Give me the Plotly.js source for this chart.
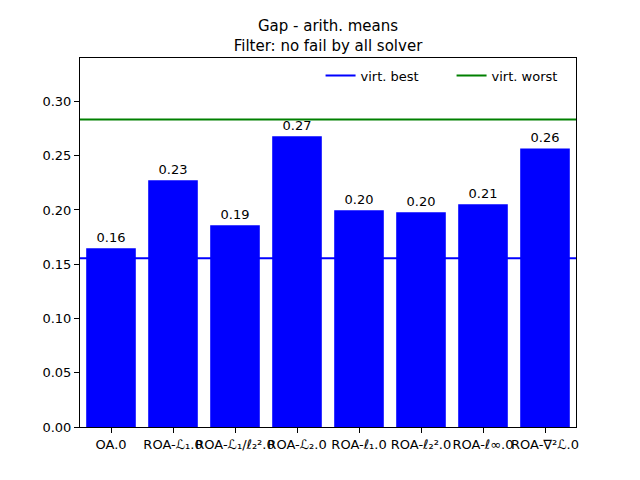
<!DOCTYPE html>
<html>
<head>
<meta charset="utf-8">
<script src="https://cdn.plot.ly/plotly-3.0.1.min.js"></script>
<style>html,body{margin:0;padding:0;background:#fff;}</style>
</head>
<body>
<div id="chart" style="width:640px;height:480px;"></div>
<script>
const categories = ["OA.0", "ROA-ℒ₁.0", "ROA-ℒ₁/ℓ₂².0", "ROA-ℒ₂.0", "ROA-ℓ₁.0", "ROA-ℓ₂².0", "ROA-ℓ∞.0", "ROA-∇²ℒ.0"];
const gapMeans = [0.1647, 0.2273, 0.1859, 0.2678, 0.1997, 0.1978, 0.2052, 0.2567];
const virtBest = 0.1555;
const virtWorst = 0.2834;
const lineX = [-0.5, 7.5];

const font = {family: "DejaVu Sans", size: 13, color: "#000"};

const traces = [
  {
    type: "bar",
    x: categories.map((c, i) => i),
    y: gapMeans,
    marker: {color: "#0000ff"},
    width: 0.8,
    text: gapMeans.map(v => v.toFixed(2)),
    textposition: "outside",
    textfont: font,
    cliponaxis: false,
    showlegend: false,
    hoverinfo: "y"
  },
  {
    type: "scatter", mode: "lines",
    x: lineX, y: [virtBest, virtBest],
    line: {color: "#0000ff", width: 2},
    name: "virt. best"
  },
  {
    type: "scatter", mode: "lines",
    x: lineX, y: [virtWorst, virtWorst],
    line: {color: "#008000", width: 2},
    name: "virt. worst"
  }
];

const layout = {
  width: 640, height: 480,
  margin: {l: 80, r: 64, t: 58, b: 53},
  paper_bgcolor: "#fff", plot_bgcolor: "#fff",
  font: font,
  title: {
    text: "Gap - arith. means<br>Filter: no fail by all solver",
    font: {family: "DejaVu Sans", size: 15, color: "#000", lineposition: "none"},
    x: 0.5125, xanchor: "center", y: 0.935, yanchor: "top"
  },
  xaxis: {
    range: [-0.5, 7.5],
    tickmode: "array",
    tickvals: categories.map((c, i) => i),
    ticktext: categories,
    tickangle: 0,
    ticks: "outside", ticklen: 5, tickcolor: "#000",
    showline: true, linecolor: "#000", linewidth: 1, mirror: true,
    showgrid: false, zeroline: false,
    tickfont: font
  },
  yaxis: {
    range: [0, 0.34],
    tickvals: [0, 0.05, 0.10, 0.15, 0.20, 0.25, 0.30],
    tickformat: ".2f",
    ticks: "outside", ticklen: 5, tickcolor: "#000",
    showline: true, linecolor: "#000", linewidth: 1, mirror: true,
    showgrid: false, zeroline: false,
    tickfont: font
  },
  legend: {
    orientation: "h",
    x: 0.485, xanchor: "left",
    y: 0.993, yanchor: "top",
    bgcolor: "rgba(255,255,255,0)",
    font: font,
    entrywidth: 86, entrywidthmode: "pixels",
    traceorder: "normal"
  },
  showlegend: true,
  bargap: 0.2
};

Plotly.newPlot("chart", traces, layout, {displayModeBar: false, staticPlot: true});
</script>
</body>
</html>
